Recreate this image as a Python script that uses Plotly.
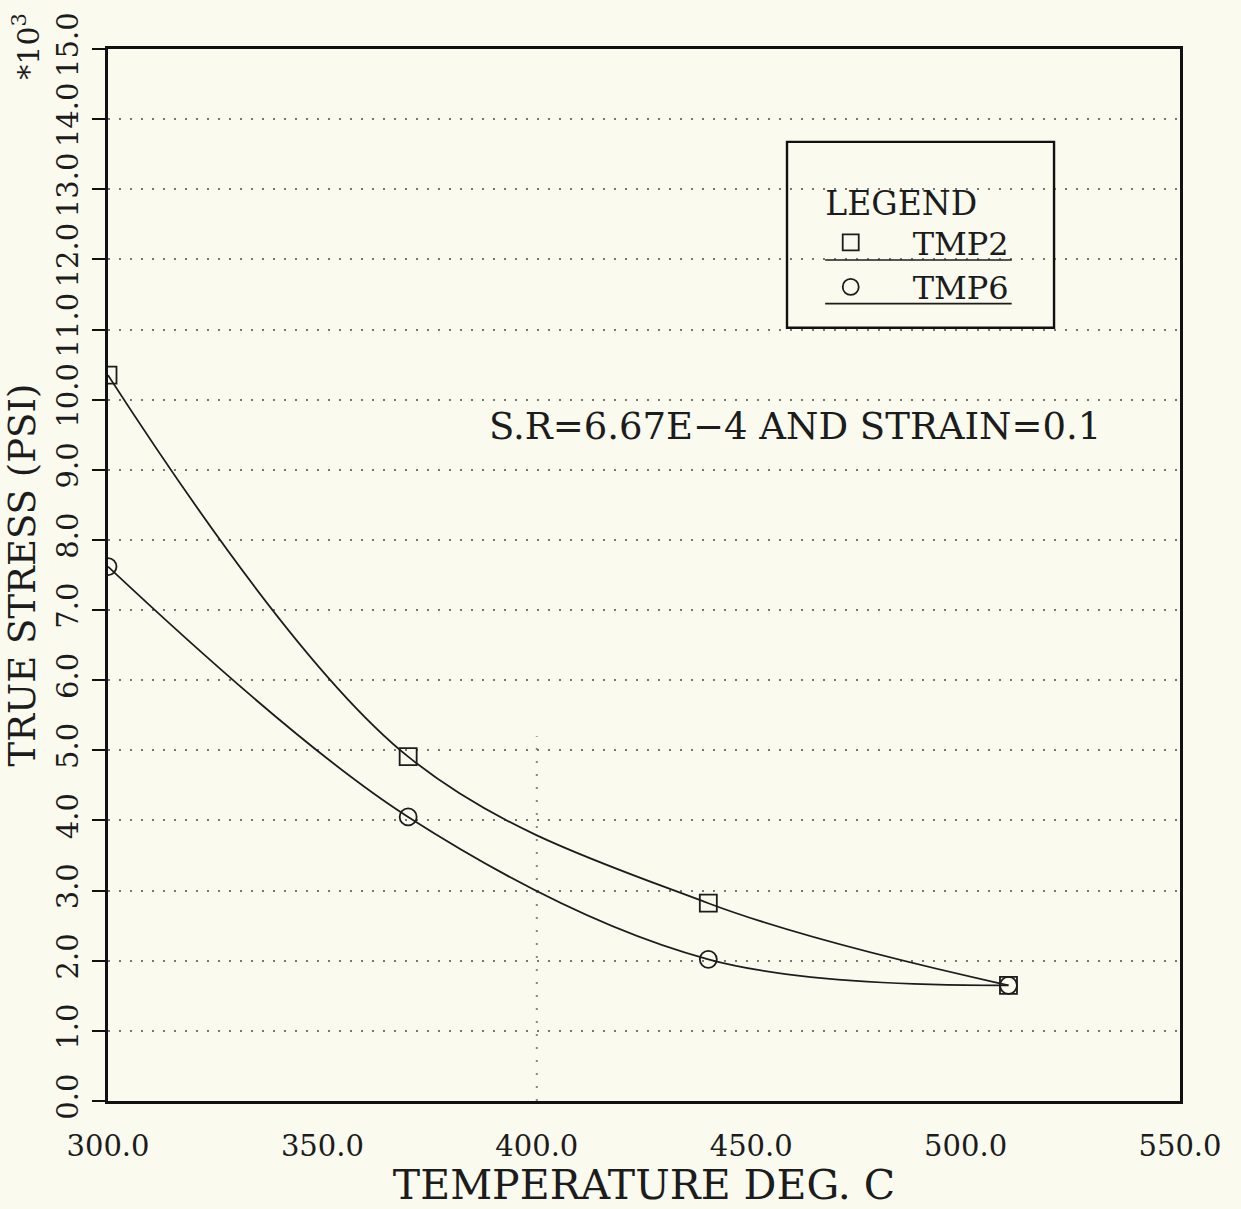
import plotly.graph_objects as go

# Data
temp = [300, 370, 440, 510]
tmp2 = [10.35, 4.91, 2.82, 1.65]
tmp6 = [7.62, 4.05, 2.02, 1.65]
x_ticks = [300, 350, 400, 450, 500, 550]
y_ticks = list(range(0, 16))

BG = "#fafaef"
FONT = "DejaVu Serif"
INK = "#1c1c1c"

fig = go.Figure()

for name, ys, sym in [("TMP2", tmp2, "square-open"), ("TMP6", tmp6, "circle-open")]:
    fig.add_trace(go.Scatter(
        x=temp, y=ys, mode="lines", line=dict(color=INK, width=1.8, shape="spline"),
        showlegend=False, hoverinfo="skip"))
    fig.add_trace(go.Scatter(
        x=temp, y=ys, mode="markers", name=name,
        marker=dict(symbol=sym, size=17, color=INK, line=dict(width=1.8, color=INK)),
        cliponaxis=True))

fig.update_layout(
    width=1241, height=1209,
    paper_bgcolor=BG, plot_bgcolor=BG,
    margin=dict(l=108, r=61, t=48, b=97),
    font=dict(family=FONT, color=INK, size=26),
    showlegend=True,
    legend=dict(
        x=0.635, y=0.883, xanchor="left", yanchor="top",
        bgcolor="rgba(0,0,0,0)", borderwidth=0,
        title=dict(text="LEGEND", font=dict(size=33, family=FONT), side="top center"),
        font=dict(size=32, family=FONT), itemwidth=114, tracegroupgap=0,
    ),
    xaxis=dict(
        range=[300, 550], tickvals=x_ticks, ticktext=[f"{v:.1f}" for v in x_ticks],
        showgrid=False, zeroline=False, ticks="",
        showline=True, mirror=True, linecolor="#111", linewidth=2.8,
        tickfont=dict(size=29, family=FONT), ticklabelstandoff=17,
        title=dict(text="TEMPERATURE DEG. C", font=dict(size=41, family=FONT), standoff=6),
    ),
    yaxis=dict(
        range=[0, 15], tickvals=y_ticks, ticktext=[f"{v:.1f}" for v in y_ticks],
        showgrid=True, gridcolor="#77776f", griddash="2px,9px", gridwidth=2,
        zeroline=False, ticks="outside", ticklen=13, tickwidth=2.2, tickcolor="#111",
        showline=True, mirror=True, linecolor="#111", linewidth=2.8,
        tickangle=-90, tickfont=dict(size=29, family=FONT), ticklabelstandoff=3,
        title=dict(text="TRUE STRESS (PSI)", font=dict(size=37, family=FONT), standoff=4),
    ),
)

# vertical dotted guide at 400 (lower part of the plot only)
fig.add_shape(type="line", xref="x", yref="y", x0=400, x1=400, y0=0, y1=5.2,
              line=dict(color="#88887f", width=2, dash="2px,11px"), layer="below")

# legend frame and underlines
fig.add_shape(type="rect", xref="paper", yref="paper", x0=0.6334, x1=0.8825, y0=0.735, y1=0.9117,
              line=dict(color="#111", width=2.4))
for yy in [0.7995, 0.758]:
    fig.add_shape(type="line", xref="paper", yref="paper", x0=0.669, x1=0.843, y0=yy, y1=yy,
                  line=dict(color=INK, width=1.6))

# annotations
fig.add_annotation(xref="paper", yref="paper", x=0.641, y=0.641, text="S.R=6.67E\u22124 AND STRAIN=0.1",
                   showarrow=False, font=dict(size=37, family=FONT), xanchor="center", yanchor="middle")
fig.add_annotation(xref="paper", yref="paper", x=-0.0755, y=1.036, text="*10<sup>3</sup>",
                   textangle=-90, showarrow=False, font=dict(size=30, family=FONT),
                   xanchor="center", yanchor="top")

fig.write_html("out.html", config={"displayModeBar": False},
               post_script=f"document.body.style.margin='0';document.body.style.background='{BG}';document.body.style.overflow='hidden';")
